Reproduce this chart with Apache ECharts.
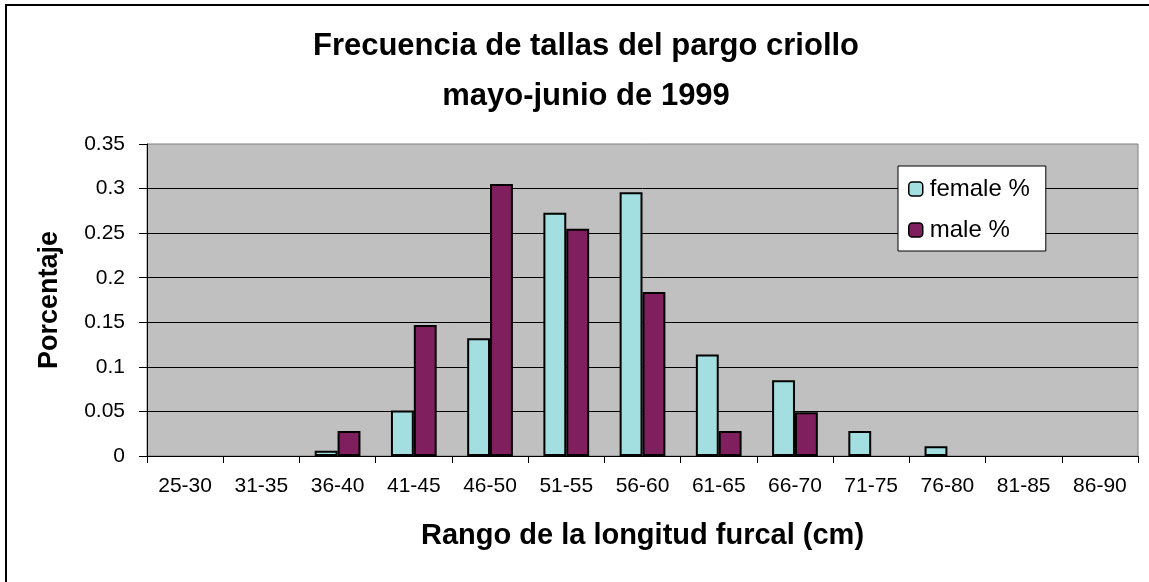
<!DOCTYPE html>
<html lang="es">
<head>
  <meta charset="utf-8" />
  <script src="https://cdn.jsdelivr.net/npm/echarts@6/dist/echarts.min.js"></script>
</head>
<body style="margin: 0; background: #fff">
  <div id="container" style="width: 1149px; height: 582px"></div>
  <script>
    // rangos de talla (cm)
    var ranges = ["25-30", "31-35", "36-40", "41-45", "46-50", "51-55", "56-60",
                  "61-65", "66-70", "71-75", "76-80", "81-85", "86-90"];
    var femalePct = [0, 0, 0.006, 0.051, 0.132, 0.273, 0.296, 0.114, 0.085, 0.028, 0.011, 0, 0];
    var malePct = [0, 0, 0.028, 0.147, 0.305, 0.255, 0.184, 0.028, 0.049, 0, 0, 0, 0];
    var seriesNames = ["female %", "male %"];

    // Excel no dibuja barras de altura cero
    function noZero(arr) {
      return arr.map(function (v) { return v === 0 ? "-" : v; });
    }

    var font = "'Liberation Sans', Arial, sans-serif";
    var chart = echarts.init(document.getElementById("container"), null, { renderer: "canvas" });

    var option = {
      animation: false,
      textStyle: { fontFamily: font },
      title: {
        text: "Frecuencia de tallas del pargo criollo\nmayo-junio de 1999",
        left: 581,
        top: 16,
        textAlign: "center",
        textStyle: { fontSize: 31, fontWeight: "bold", color: "#000", lineHeight: 50, fontFamily: font }
      },
      graphic: [
        {
          type: "rect",
          shape: { x: 6, y: 5, width: 1200, height: 700 },
          style: { fill: "none", stroke: "#000", lineWidth: 2 },
          silent: true
        }
      ],
      legend: {
        orient: "vertical",
        left: 898,
        top: 166,
        data: seriesNames,
        itemWidth: 14,
        itemHeight: 14,
        itemGap: 17,
        padding: [11, 16, 9, 10],
        backgroundColor: "#fff",
        borderColor: "#000",
        borderWidth: 1,
        textStyle: { fontSize: 24, color: "#000", fontFamily: font, padding: [0, 0, 0, 2] },
        itemStyle: { borderWidth: 1.5, borderColor: "#000" }
      },
      grid: {
        left: 147,
        right: 11,
        top: 144,
        bottom: 126,
        show: true,
        backgroundColor: "#c0c0c0",
        borderColor: "#808080",
        borderWidth: 1
      },
      xAxis: {
        type: "category",
        data: ranges,
        boundaryGap: true,
        name: "Rango de la longitud furcal (cm)",
        nameLocation: "middle",
        nameGap: 65,
        nameTextStyle: { fontSize: 29, fontWeight: "bold", color: "#000", fontFamily: font },
        axisLine: { lineStyle: { color: "#000", width: 1 } },
        axisTick: { show: true, length: 7, lineStyle: { color: "#000" } },
        axisLabel: { interval: 0, fontSize: 21, color: "#000", margin: 20 },
        splitLine: { show: false }
      },
      yAxis: {
        type: "value",
        min: 0,
        max: 0.35,
        interval: 0.05,
        name: "Porcentaje",
        nameLocation: "middle",
        nameGap: 84,
        nameTextStyle: { fontSize: 27, fontWeight: "bold", color: "#000", fontFamily: font },
        axisLine: { show: true, lineStyle: { color: "#000", width: 1 } },
        axisTick: { show: true, length: 8, lineStyle: { color: "#000" } },
        axisLabel: { fontSize: 21, color: "#000", margin: 22 },
        splitLine: { show: true, showMaxLine: false, lineStyle: { color: "#000", width: 1 } }
      },
      series: [
        {
          name: seriesNames[0],
          type: "bar",
          data: noZero(femalePct),
          barGap: "0%",
          barCategoryGap: "40%",
          itemStyle: { color: "#a3dfe0", borderColor: "#000", borderWidth: 2 }
        },
        {
          name: seriesNames[1],
          type: "bar",
          data: noZero(malePct),
          barGap: "0%",
          barCategoryGap: "40%",
          itemStyle: { color: "#801f5e", borderColor: "#000", borderWidth: 2 }
        }
      ]
    };

    chart.setOption(option);
    window.addEventListener("resize", chart.resize);
  </script>
</body>
</html>
